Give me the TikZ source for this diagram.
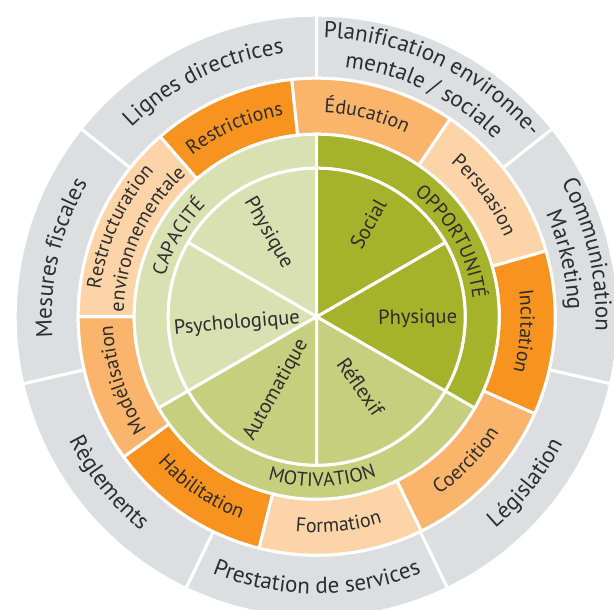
\documentclass[tikz,border=0pt]{standalone}
\usepackage{fontspec}
\setmainfont{PT Sans}
\usetikzlibrary{decorations.text}

\definecolor{polgrey}{RGB}{221,222,224}
\definecolor{orangeA}{RGB}{247,147,30}
\definecolor{orangeB}{RGB}{251,180,107}
\definecolor{orangeC}{RGB}{253,212,167}
\definecolor{capgreen}{RGB}{217,224,177}
\definecolor{oppgreen}{RGB}{165,178,44}
\definecolor{motgreen}{RGB}{197,207,126}
\definecolor{txt}{RGB}{45,45,45}

\newcommand{\polfont}{\fontsize{23}{23}\selectfont}
\newcommand{\intfont}{\fontsize{20}{20}\selectfont}
\newcommand{\combfont}{\fontsize{19.5}{19.5}\selectfont}

\begin{document}
\begin{tikzpicture}[x=1pt,y=1pt,
  seg/.style={draw=white, line width=3pt, line join=round},
  subtext/.style={text=txt, font=\fontsize{20.5}{20.5}\selectfont, inner sep=0pt},
  ringtext/.style={decorate, decoration={text along path, text align=center, text color=txt, text={#1}}}]

\useasboundingbox (-316.7,-293.3) rectangle (297.3,316.7);

% policy ring
\filldraw[seg, fill=polgrey] (90:238.5) arc[start angle=90, end angle=141.43, radius=238.5] -- (141.43:301.5) arc[start angle=141.43, end angle=90, radius=301.5] -- cycle;
\filldraw[seg, fill=polgrey] (38.57:238.5) arc[start angle=38.57, end angle=90, radius=238.5] -- (90:301.5) arc[start angle=90, end angle=38.57, radius=301.5] -- cycle;
\filldraw[seg, fill=polgrey] (-12.86:238.5) arc[start angle=-12.86, end angle=38.57, radius=238.5] -- (38.57:301.5) arc[start angle=38.57, end angle=-12.86, radius=301.5] -- cycle;
\filldraw[seg, fill=polgrey] (-64.29:238.5) arc[start angle=-64.29, end angle=-12.86, radius=238.5] -- (-12.86:301.5) arc[start angle=-12.86, end angle=-64.29, radius=301.5] -- cycle;
\filldraw[seg, fill=polgrey] (-115.71:238.5) arc[start angle=-115.71, end angle=-64.29, radius=238.5] -- (-64.29:301.5) arc[start angle=-64.29, end angle=-115.71, radius=301.5] -- cycle;
\filldraw[seg, fill=polgrey] (192.86:238.5) arc[start angle=192.86, end angle=244.29, radius=238.5] -- (244.29:301.5) arc[start angle=244.29, end angle=192.86, radius=301.5] -- cycle;
\filldraw[seg, fill=polgrey] (141.43:238.5) arc[start angle=141.43, end angle=192.86, radius=238.5] -- (192.86:301.5) arc[start angle=192.86, end angle=141.43, radius=301.5] -- cycle;

% intervention ring
\filldraw[seg, fill=orangeA] (96:182.5) arc[start angle=96, end angle=131, radius=182.5] -- (131:238.5) arc[start angle=131, end angle=96, radius=238.5] -- cycle;
\filldraw[seg, fill=orangeB] (56:182.5) arc[start angle=56, end angle=96, radius=182.5] -- (96:238.5) arc[start angle=96, end angle=56, radius=238.5] -- cycle;
\filldraw[seg, fill=orangeC] (16:182.5) arc[start angle=16, end angle=56, radius=182.5] -- (56:238.5) arc[start angle=56, end angle=16, radius=238.5] -- cycle;
\filldraw[seg, fill=orangeA] (-24:182.5) arc[start angle=-24, end angle=16, radius=182.5] -- (16:238.5) arc[start angle=16, end angle=-24, radius=238.5] -- cycle;
\filldraw[seg, fill=orangeB] (-64:182.5) arc[start angle=-64, end angle=-24, radius=182.5] -- (-24:238.5) arc[start angle=-24, end angle=-64, radius=238.5] -- cycle;
\filldraw[seg, fill=orangeC] (-104:182.5) arc[start angle=-104, end angle=-64, radius=182.5] -- (-64:238.5) arc[start angle=-64, end angle=-104, radius=238.5] -- cycle;
\filldraw[seg, fill=orangeA] (-144:182.5) arc[start angle=-144, end angle=-104, radius=182.5] -- (-104:238.5) arc[start angle=-104, end angle=-144, radius=238.5] -- cycle;
\filldraw[seg, fill=orangeB] (180:182.5) arc[start angle=180, end angle=216, radius=182.5] -- (216:238.5) arc[start angle=216, end angle=180, radius=238.5] -- cycle;
\filldraw[seg, fill=orangeC] (131:182.5) arc[start angle=131, end angle=180, radius=182.5] -- (180:238.5) arc[start angle=180, end angle=131, radius=238.5] -- cycle;

% COM-B ring
\filldraw[seg, fill=capgreen] (90:148.5) arc[start angle=90, end angle=210, radius=148.5] -- (210:182.5) arc[start angle=210, end angle=90, radius=182.5] -- cycle;
\filldraw[seg, fill=motgreen] (210:148.5) arc[start angle=210, end angle=330, radius=148.5] -- (330:182.5) arc[start angle=330, end angle=210, radius=182.5] -- cycle;
\filldraw[seg, fill=oppgreen] (-30:148.5) arc[start angle=-30, end angle=90, radius=148.5] -- (90:182.5) arc[start angle=90, end angle=-30, radius=182.5] -- cycle;

% sources of behaviour
\filldraw[seg, fill=capgreen] (0,0) -- (90:148.5) arc[start angle=90, end angle=150, radius=148.5] -- cycle;
\filldraw[seg, fill=capgreen] (0,0) -- (150:148.5) arc[start angle=150, end angle=210, radius=148.5] -- cycle;
\filldraw[seg, fill=motgreen] (0,0) -- (210:148.5) arc[start angle=210, end angle=270, radius=148.5] -- cycle;
\filldraw[seg, fill=motgreen] (0,0) -- (270:148.5) arc[start angle=270, end angle=330, radius=148.5] -- cycle;
\filldraw[seg, fill=oppgreen] (0,0) -- (-30:148.5) arc[start angle=-30, end angle=30, radius=148.5] -- cycle;
\filldraw[seg, fill=oppgreen] (0,0) -- (30:148.5) arc[start angle=30, end angle=90, radius=148.5] -- cycle;

\node[subtext, rotate=-60] (capphys) at (120:97) {Physique};
\node[subtext, rotate=5] (cappsy) at (185:80) {Psychologique};
\node[subtext, rotate=61] (motauto) at (241:84) {Automatique};
\node[subtext, rotate=-55] (motrefl) at (-58:83) {Réflexif};
\node[subtext, rotate=61] (oppsoc) at (61:106) {Social};
\node[subtext, rotate=1] (oppphys) at (-1:101) {Physique};

\path[ringtext={|\combfont|CAPACITÉ}] (210:157) arc[start angle=210, end angle=90, radius=157];
\path[ringtext={|\combfont|OPPORTUNITÉ}] (89:157) arc[start angle=89, end angle=-31, radius=157];
\path[ringtext={|\combfont|MOTIVATION}] (-150:170) arc[start angle=-150, end angle=-26, radius=170];

\path[ringtext={|\intfont|Restrictions}] (158.5:204) arc[start angle=158.5, end angle=68.5, radius=204];
\path[ringtext={|\intfont|Éducation}] (121:204) arc[start angle=121, end angle=31, radius=204];
\path[ringtext={|\intfont|Persuasion}] (81:204) arc[start angle=81, end angle=-9, radius=204];
\path[ringtext={|\intfont|Incitation}] (41:204) arc[start angle=41, end angle=-49, radius=204];
\path[ringtext={|\intfont|Coercition}] (-89:216) arc[start angle=-89, end angle=1, radius=216];
\path[ringtext={|\intfont|Formation}] (-129:216) arc[start angle=-129, end angle=-39, radius=216];
\path[ringtext={|\intfont|Habilitation}] (-169:216) arc[start angle=-169, end angle=-79, radius=216];
\path[ringtext={|\intfont|Modélisation}] (243:204) arc[start angle=243, end angle=153, radius=204];
\path[ringtext={|\intfont|Restructuration}] (200.5:218) arc[start angle=200.5, end angle=110.5, radius=218];
\path[ringtext={|\intfont|environnementale}] (200.5:193) arc[start angle=200.5, end angle=110.5, radius=193];

\path[ringtext={|\polfont|Lignes directrices}] (160.71:265) arc[start angle=160.71, end angle=70.71, radius=265];
\path[ringtext={|\polfont|Planification environne-}] (109.29:279) arc[start angle=109.29, end angle=19.29, radius=279];
\path[ringtext={|\polfont|mentale / sociale}] (109.29:251) arc[start angle=109.29, end angle=19.29, radius=251];
\path[ringtext={|\polfont|Communication}] (57.86:279) arc[start angle=57.86, end angle=-32.14, radius=279];
\path[ringtext={|\polfont|Marketing}] (57.86:251) arc[start angle=57.86, end angle=-32.14, radius=251];
\path[ringtext={|\polfont|Législation}] (-83.57:277) arc[start angle=-83.57, end angle=6.43, radius=277];
\path[ringtext={|\polfont|Prestation de services}] (-135:277) arc[start angle=-135, end angle=-45, radius=277];
\path[ringtext={|\polfont|Règlements}] (-186.43:277) arc[start angle=-186.43, end angle=-96.43, radius=277];
\path[ringtext={|\polfont|Mesures fiscales}] (212.14:265) arc[start angle=212.14, end angle=122.14, radius=265];

\end{tikzpicture}
\end{document}
